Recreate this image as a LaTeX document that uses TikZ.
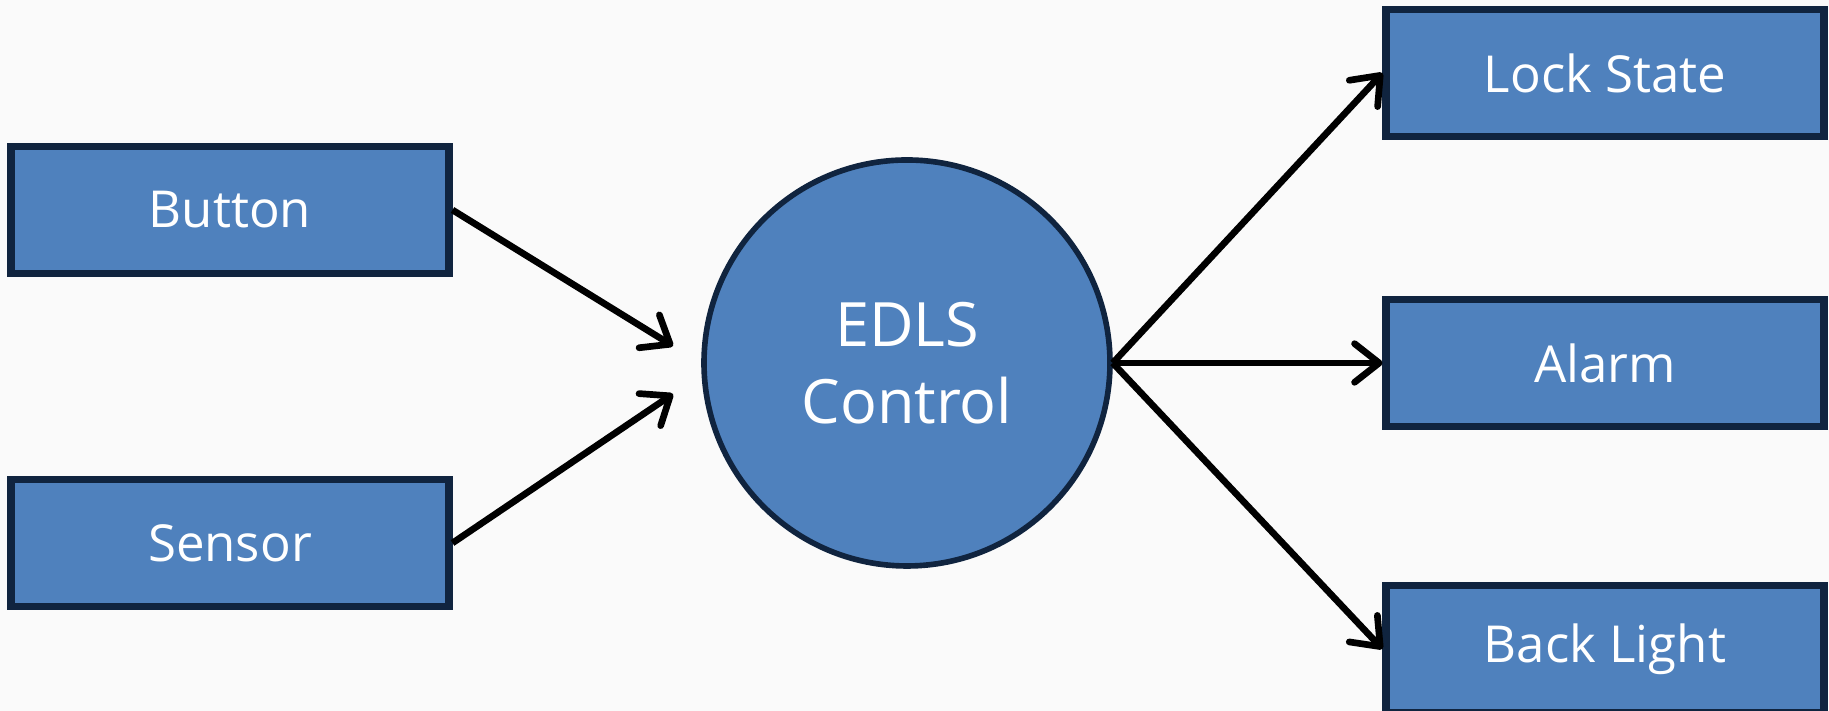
\documentclass[tikz,border=0pt]{standalone}
\usepackage{fontspec}
\setmainfont{Open Sans}
\usepackage{xcolor}
\usepackage{tikz}
\usetikzlibrary{arrows.meta,automata}

\definecolor{boxblue}{HTML}{4F81BD}
\definecolor{boxnavy}{HTML}{10243F}
\definecolor{paper}{HTML}{FAFAFA}

\begin{document}
\begin{tikzpicture}[auto, node distance=3.33cm, line width=2pt]
    \tikzstyle{every state}=[draw=boxnavy, line width=1.6pt, fill=boxblue, text=white, minimum size=4.06cm, inner sep=0pt, font=\fontsize{17.4}{22}\selectfont, align=center]
    \tikzstyle{block}=[rectangle, draw=boxnavy, line width=2pt, fill=boxblue, text=white, minimum width=4.38cm, minimum height=1.27cm, font=\fontsize{14.5}{18}\selectfont]
    \tikzstyle{flow}=[-{Straight Barb[length=7pt,width=11pt,round]}, black, line width=1.9pt]

    % background
    \fill[paper] (0,0) rectangle (18.29,7.11);
    \useasboundingbox (0,0) rectangle (18.29,7.11);

    % inputs
    \node[block] (button) at (2.30,5.01) {Button};
    \node[block] (sensor) [below of=button] {Sensor};

    % controller
    \node[state] (ctrl) at (9.07,3.48) {EDLS\\Control};
    \coordinate (in1) at (6.73,3.65);
    \coordinate (in2) at (6.73,3.17);

    % outputs
    \node[block] (alarm) [right of=ctrl, node distance=6.98cm] {Alarm};
    \node[block] (lock) [above of=alarm, node distance=2.9cm] {Lock State};
    \node[block] (light) [below of=alarm, node distance=2.86cm] {Back Light};

    \path[flow] (button.east) edge (in1)
                (sensor.east) edge (in2)
                (ctrl.east)   edge (lock.west)
                              edge (alarm.west)
                              edge (light.west);

\end{tikzpicture}
\end{document}
